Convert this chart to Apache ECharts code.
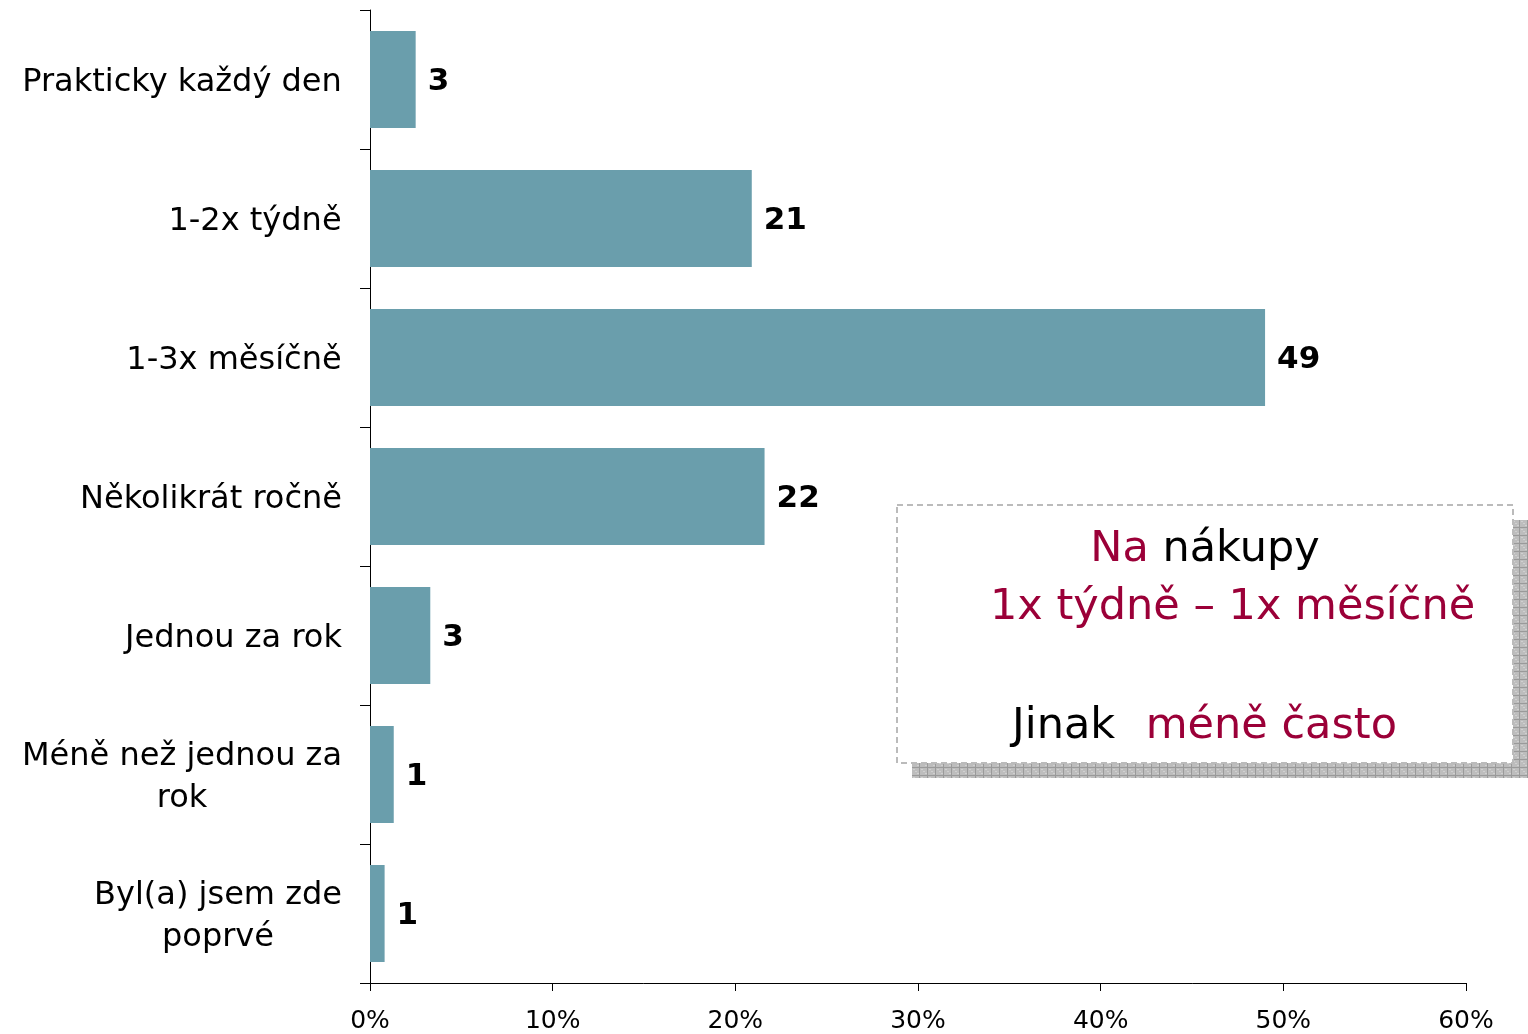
<!DOCTYPE html>
<html>
<head>
<meta charset="utf-8">
<script src="https://cdn.jsdelivr.net/npm/echarts@6/dist/echarts.min.js"></script>
<style>
    html, body { margin: 0; padding: 0; background: #fff; }
    #chartDiv { width: 1528px; height: 1034px; }
</style>
</head>
<body>
<div id="chartDiv"></div>
<script>
// Data (percent of respondents)
const categories = [
    'Prakticky každý den',
    '1-2x týdně',
    '1-3x měsíčně',
    'Několikrát ročně',
    'Jednou za rok',
    'Méně než jednou za\nrok',
    'Byl(a) jsem zde\npoprvé'
];
const values = [2.5, 20.9, 49.0, 21.6, 3.3, 1.3, 0.8];
const valueLabels = ['3', '21', '49', '22', '3', '1', '1'];
const xTicks = [0, 10, 20, 30, 40, 50, 60];

const FONT = 'DejaVu Sans';
const LABEL_SIZE = 32;
const DARK_RED = '#9B0038';
const BAR_COLOR = '#6A9EAC';

// measure widest line so multi-line labels are centred within their block
function measure(text, size, weight) {
    const ctx = document.createElement('canvas').getContext('2d');
    ctx.font = (weight || 'normal') + ' ' + size + 'px "' + FONT + '"';
    return ctx.measureText(text).width;
}

const labelRich = {};
categories.forEach((c, i) => {
    const lines = c.split('\n');
    const w = Math.ceil(Math.max(...lines.map(l => measure(l, LABEL_SIZE))));
    labelRich['c' + i] = {
        width: w,
        align: 'center',
        fontFamily: FONT,
        fontSize: LABEL_SIZE,
        lineHeight: 42,
        color: '#000'
    };
});

// checkered grey pattern for the box shadow
function makeShadowPattern() {
    const cv = document.createElement('canvas');
    cv.width = 8;
    cv.height = 8;
    const ctx = cv.getContext('2d');
    ctx.fillStyle = '#bdbdbd';
    ctx.fillRect(0, 0, 8, 8);
    ctx.fillStyle = '#9a9a9a';
    ctx.fillRect(7, 0, 1, 8);
    ctx.fillRect(0, 7, 8, 1);
    ctx.fillStyle = '#d0d0d0';
    for (let i = 1; i < 7; i += 2) {
        ctx.fillRect(i, i, 1, 1);
        ctx.fillRect(i + 1 < 7 ? i + 1 : 1, i, 1, 1);
    }
    return cv;
}

function renderChart() {
    const chartDom = document.getElementById('chartDiv');
    const myChart = echarts.init(chartDom, null, { renderer: 'canvas' });

    const boxX = 897, boxY = 505, boxW = 616, boxH = 258;
    const boxFont = { fontFamily: FONT, fontSize: 43 };

    const option = {
        backgroundColor: '#fff',
        animation: false,
        grid: { left: 370, right: 62, top: 10, bottom: 51, containLabel: false },
        xAxis: {
            type: 'value',
            min: xTicks[0],
            max: xTicks[xTicks.length - 1],
            interval: 10,
            axisLine: { show: true, lineStyle: { color: '#000', width: 1 } },
            axisTick: { show: true, length: 8, lineStyle: { color: '#000' } },
            splitLine: { show: false },
            axisLabel: {
                formatter: '{value}%',
                margin: 26,
                fontFamily: FONT,
                fontSize: 25,
                color: '#000'
            }
        },
        yAxis: {
            type: 'category',
            data: categories,
            inverse: true,
            axisLine: { show: true, lineStyle: { color: '#000', width: 1 } },
            axisTick: { show: true, length: 10, lineStyle: { color: '#000' } },
            axisLabel: {
                margin: 28,
                align: 'right',
                fontFamily: FONT,
                fontSize: LABEL_SIZE,
                lineHeight: 42,
                color: '#000',
                padding: [6, 0, 0, 0],
                formatter: (value, index) => value.split('\n').map(l => `{c${index}|${l}}`).join('\n'),
                rich: labelRich
            }
        },
        series: [
            {
                type: 'bar',
                data: values,
                barWidth: 97,
                itemStyle: { color: BAR_COLOR },
                label: {
                    show: true,
                    position: 'right',
                    distance: 12,
                    offset: [0, 2],
                    formatter: p => valueLabels[p.dataIndex],
                    fontFamily: FONT,
                    fontWeight: 'bold',
                    fontSize: 31,
                    color: '#000'
                }
            }
        ],
        graphic: [
            {
                type: 'rect',
                shape: { x: boxX + 15, y: boxY + 15, width: boxW, height: boxH },
                style: { fill: { image: makeShadowPattern(), repeat: 'repeat' } },
                z: 10
            },
            {
                type: 'rect',
                shape: { x: boxX, y: boxY, width: boxW, height: boxH },
                style: { fill: '#fff', stroke: '#bbbbbb', lineWidth: 2, lineDash: [6, 4] },
                z: 11
            },
            {
                type: 'text',
                x: boxX + boxW / 2,
                y: 550,
                z: 12,
                style: {
                    text: '{r|Na} {k|nákupy}',
                    align: 'center',
                    verticalAlign: 'middle',
                    rich: {
                        r: Object.assign({ fill: DARK_RED }, boxFont),
                        k: Object.assign({ fill: '#000' }, boxFont)
                    },
                    ...boxFont
                }
            },
            {
                type: 'text',
                x: 990,
                y: 608,
                z: 12,
                style: {
                    text: '1x týdně – 1x měsíčně',
                    align: 'left',
                    verticalAlign: 'middle',
                    fill: DARK_RED,
                    ...boxFont
                }
            },
            {
                type: 'text',
                x: 1012,
                y: 727,
                z: 12,
                style: {
                    text: 'Jinak',
                    align: 'left',
                    verticalAlign: 'middle',
                    fill: '#000',
                    ...boxFont
                }
            },
            {
                type: 'text',
                x: 1397,
                y: 727,
                z: 12,
                style: {
                    text: 'méně často',
                    align: 'right',
                    verticalAlign: 'middle',
                    fill: DARK_RED,
                    ...boxFont
                }
            }
        ]
    };

    myChart.setOption(option);
}

renderChart();
</script>
</body>
</html>
